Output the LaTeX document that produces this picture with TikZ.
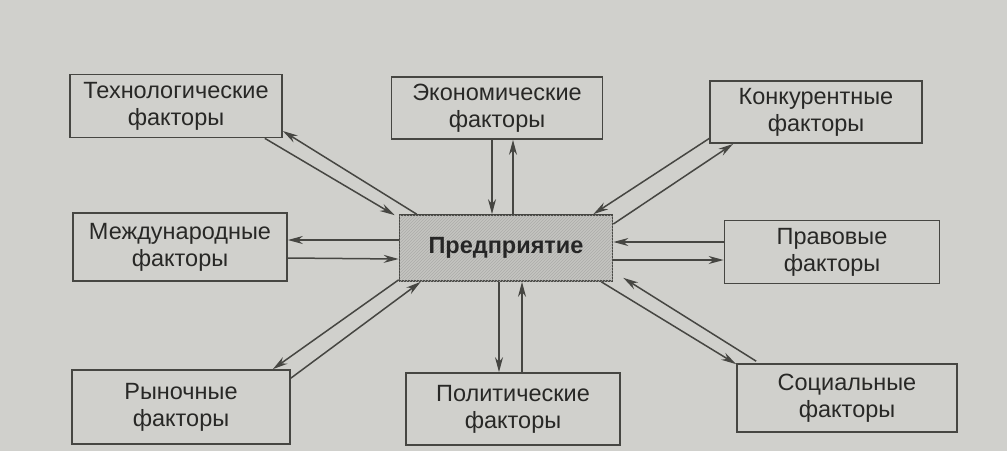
\documentclass[tikz,border=0pt]{standalone}
\usepackage{fontspec}
\setmainfont{Liberation Sans}
\usetikzlibrary{arrows.meta,calc,patterns}
\definecolor{bg}{RGB}{208,208,204}
\definecolor{ink}{RGB}{70,70,66}
\definecolor{txt}{RGB}{40,40,38}
\definecolor{hatch}{RGB}{196,196,192}
\tikzset{
  factor/.style={draw=ink, line width=1.7pt, fill=bg, align=center, inner sep=0pt,
    text=txt, font=\fontsize{23.5}{27}\selectfont},
  core/.style={factor, fill=hatch, postaction={pattern=north east lines, pattern color=ink!45},
    text=black!85, font=\fontsize{23.5}{27}\selectfont\bfseries},
  arr/.style={draw=ink, line width=1.5pt, -{Stealth[length=15pt,width=8pt]}},
}
\begin{document}
\begin{tikzpicture}[x=1pt,y=-1pt]
\fill[bg] (0,0) rectangle (1007,451);
\useasboundingbox (0,0) rectangle (1007,451);
\node[factor, minimum width=212pt, minimum height=63pt] (tech) at (176,106) {Технологические\\факторы};
\node[factor, minimum width=211pt, minimum height=62pt] (econ) at (497,108) {Экономические\\факторы};
\node[factor, minimum width=212pt, minimum height=62pt] (konk) at (816,112) {Конкурентные\\факторы};
\node[factor, minimum width=214pt, minimum height=68pt] (mezh) at (180,247) {Международные\\факторы};
\node[core,   minimum width=213pt, minimum height=66pt] (pred) at (506,248) {Предприятие};
\node[factor, minimum width=215pt, minimum height=63pt] (prav) at (832,252) {Правовые\\факторы};
\node[factor, minimum width=218pt, minimum height=74pt] (ryn) at (181,407) {Рыночные\\факторы};
\node[factor, minimum width=214pt, minimum height=72pt] (polit) at (513,409) {Политические\\факторы};
\node[factor, minimum width=220pt, minimum height=68pt] (soc) at (847,398) {Социальные\\факторы};
% Technological
\draw[arr] ($(tech.south east)+(-18,0)$) -- ($(pred.north west)+(-4,1)$);
\draw[arr] ($(pred.north west)+(18,0)$) -- ($(tech.east)+(0,25)$);
% Economic
\draw[arr] ($(econ.south)+(-5,0)$) -- ($(pred.north)+(-14,0)$);
\draw[arr] ($(pred.north)+(7,0)$) -- ($(econ.south)+(16,0)$);
% Competitive
\draw[arr] ($(konk.south west)+(1,-6)$) -- ($(pred.north east)+(-20,0)$);
\draw[arr] ($(pred.east)+(0,-24)$) -- ($(konk.south west)+(24,0)$);
% Legal
\draw[arr] ($(prav.west)+(0,-10)$) -- ($(pred.east)+(0,-6)$);
\draw[arr] ($(pred.east)+(0,12)$) -- ($(prav.west)+(0,8)$);
% International
\draw[arr] ($(pred.west)+(0,-8)$) -- ($(mezh.east)+(0,-7)$);
\draw[arr] ($(mezh.east)+(0,11)$) -- ($(pred.west)+(0,11)$);
% Market
\draw[arr] ($(pred.south west)+(0,-2)$) -- ($(ryn.north east)+(-18,0)$);
\draw[arr] ($(ryn.north east)+(0,9)$) -- ($(pred.south west)+(22,0)$);
% Political
\draw[arr] ($(pred.south)+(-7,0)$) -- ($(polit.north)+(-14,0)$);
\draw[arr] ($(polit.north)+(9,0)$) -- ($(pred.south)+(16,0)$);
% Social
\draw[arr] ($(pred.south east)+(-12,0)$) -- ($(soc.north west)+(0,1)$);
\draw[arr] ($(soc.north west)+(20,-2)$) -- ($(pred.south east)+(10,-4)$);
\end{tikzpicture}
\end{document}
